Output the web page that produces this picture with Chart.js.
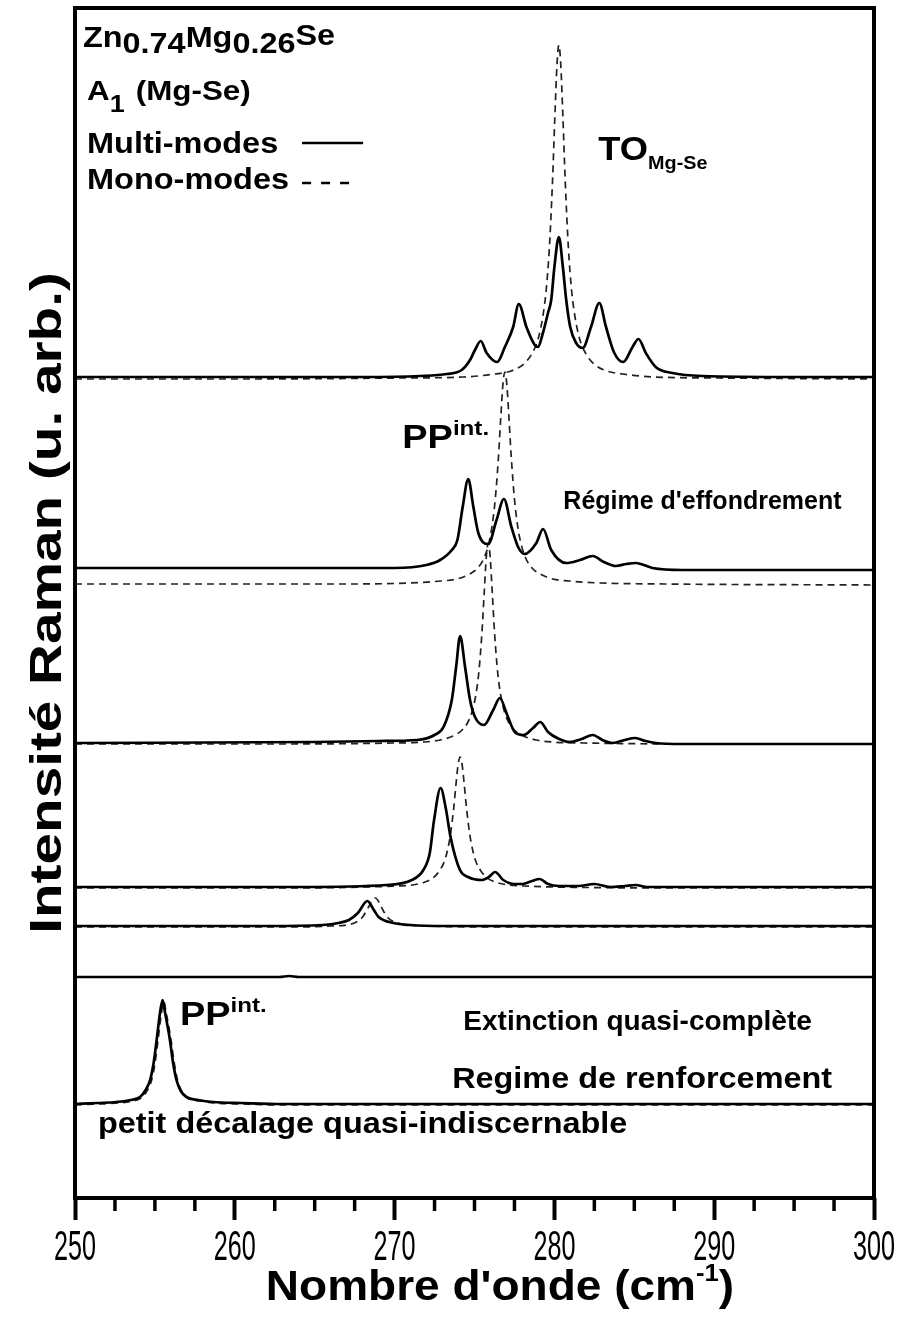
<!DOCTYPE html>
<html>
<head>
<meta charset="utf-8">
<script src="https://cdn.jsdelivr.net/npm/chart.js@4.4.1/dist/chart.umd.min.js"></script>
<style>
  html, body { margin: 0; padding: 0; background: #fff; }
</style>
</head>
<body>
<canvas id="ramanChart" width="910" height="1320"></canvas>
<script>
// Raman spectra Zn0.74Mg0.26Se, A1 (Mg-Se), stacked with offsets (u. arb.)
// x = wavenumber (cm-1), y = intensity incl. offset. Solid = multi-modes, dashed = mono-modes.

// spectrum 1 (top, TO Mg-Se)
const s1MultiX = [250, 262, 268, 271.6, 273.27, 274.2, 274.72, 275.03, 275.39, 275.76, 276.42, 276.9, 277.42, 277.77, 278.25, 278.77, 278.97, 279.28, 279.6, 279.8, 280.0, 280.28, 280.53, 280.74, 280.99, 281.36, 281.77, 282.29, 282.81, 283.23, 283.75, 284.31, 284.89, 285.26, 285.72, 286.34, 287.38, 289.25, 295, 300];
const s1MultiY = [821, 821, 821, 822, 824, 828, 838, 848, 857, 845, 836, 851, 871, 894, 871, 853, 851, 865, 885, 898, 931, 961, 931, 898, 871, 855, 850, 871, 895, 871, 845, 836, 851, 859, 845, 831, 825, 822, 821, 821];
const s1MonoX = [250, 260.28, 270.28, 274.28, 276.28, 277.28, 278.08, 278.58, 278.98, 279.28, 279.48, 279.68, 279.88, 280.03, 280.16, 280.28, 280.4, 280.53, 280.68, 280.88, 281.08, 281.28, 281.58, 281.98, 282.48, 283.28, 284.28, 286.28, 290.28, 300];
const s1MonoY = [819, 819, 820, 821, 824, 827, 834, 844, 859, 882, 907, 949, 1016, 1082, 1133, 1153, 1133, 1082, 1016, 949, 907, 882, 859, 844, 834, 827, 824, 821, 820, 819];

// spectrum 2 (regime d'effondrement)
const s2MultiX = [250, 265, 270, 272, 272.85, 273.58, 273.93, 274.26, 274.61, 274.93, 275.24, 275.86, 276.38, 276.84, 277.31, 277.73, 278.14, 278.87, 279.29, 279.8, 280.74, 281.6, 282.4, 283.1, 283.85, 284.5, 285.1, 286.13, 288, 300];
const s2MultiY = [630, 630, 630, 633, 638, 648, 658, 691, 719, 691, 665, 654, 678, 699, 671, 651, 644, 655, 669, 648, 635, 638, 642, 636, 632, 634, 635, 630, 628, 628];
const s2MonoX = [250, 266.9, 270.9, 272.9, 273.9, 274.7, 275.2, 275.6, 275.9, 276.1, 276.3, 276.5, 276.65, 276.78, 276.9, 277.02, 277.15, 277.3, 277.5, 277.7, 277.9, 278.2, 278.6, 279.1, 279.9, 280.9, 282.9, 286.9, 300];
const s2MonoY = [614, 614, 615, 617, 619, 624, 630, 640, 655, 672, 699, 741, 782, 814, 826, 814, 782, 741, 699, 672, 655, 640, 630, 624, 619, 617, 615, 614, 613];

// spectrum 3
const s3MultiX = [250, 265, 269, 271.4, 272.5, 273.06, 273.58, 273.85, 274.1, 274.41, 274.72, 275.03, 275.59, 276.17, 276.59, 277.0, 277.52, 278.08, 278.66, 279.12, 279.6, 280.3, 280.95, 281.7, 282.4, 283.0, 283.65, 284.4, 285.06, 285.7, 286.34, 288, 300];
const s3MultiY = [455, 456, 457, 458, 463, 471, 498, 531, 562, 531, 498, 481, 473, 488, 500, 485, 466, 463, 470, 476, 466, 459, 456, 459, 463, 458, 455, 458, 460, 457, 455, 454, 454];
const s3MonoX = [250, 262, 269.86, 271.86, 272.86, 273.66, 274.16, 274.56, 274.86, 275.06, 275.26, 275.46, 275.61, 275.74, 275.86, 275.98, 276.11, 276.26, 276.46, 276.66, 276.86, 277.16, 277.56, 278.06, 278.86, 279.86, 281.86, 290, 300];
const s3MonoY = [454, 454, 455, 456, 458, 462, 467, 475, 487, 501, 524, 564, 606, 641, 655, 641, 606, 564, 524, 501, 487, 475, 467, 462, 458, 456, 455, 454, 454];

// spectrum 4
const s4MultiX = [250, 264, 269.5, 271.08, 271.8, 272.2, 272.47, 272.88, 273.2, 273.5, 274.09, 274.6, 275.47, 275.9, 276.29, 276.8, 277.5, 278.0, 278.6, 279.07, 279.6, 280.3, 281.5, 282.5, 283.5, 284.4, 285.08, 285.8, 287, 300];
const s4MultiY = [311, 311, 313, 318, 328, 345, 378, 410, 390, 361, 328, 321, 318, 321, 326, 318, 314, 314, 317, 319, 314, 312, 312, 314, 311, 312, 313, 311, 311, 311];
const s4MonoX = [250, 264, 268.1, 270.1, 271.1, 271.9, 272.4, 272.8, 273.1, 273.3, 273.5, 273.7, 273.85, 273.98, 274.1, 274.22, 274.35, 274.5, 274.7, 274.9, 275.1, 275.4, 275.8, 276.3, 277.1, 278.1, 280.1, 288, 300];
const s4MonoY = [310, 310, 311, 312, 313, 316, 320, 327, 336, 347, 364, 390, 415, 434, 441, 434, 415, 390, 364, 347, 336, 327, 320, 316, 313, 312, 311, 310, 310];

// spectrum 5
const s5MultiX = [250, 262, 265.5, 266.5, 267.14, 267.7, 268.3, 268.7, 269.0, 269.93, 271, 273, 300];
const s5MultiY = [272, 272, 273, 275, 278, 285, 297, 288, 281, 275, 273, 272, 272];
const s5MonoX = [250, 264, 266, 267, 267.6, 268.0, 268.3, 268.55, 268.8, 269.05, 269.3, 269.6, 270.0, 270.8, 272, 276, 300];
const s5MonoY = [271, 271, 272, 273, 276, 281, 289, 296, 300, 295, 287, 280, 276, 273, 272, 271, 271];

// spectrum 6 (extinction quasi-complete)
const s6MultiX = [250, 262.8, 263.4, 264, 300];
const s6MultiY = [221, 221, 222, 221, 221];

// spectrum 7 (bottom, regime de renforcement)
const s7MultiX = [250, 251.4, 252.6, 253.5, 254.07, 254.42, 254.7, 254.92, 255.11, 255.32, 255.48, 255.64, 255.94, 256.12, 256.35, 256.62, 256.97, 257.72, 258.64, 260.4, 263, 300];
const s7MultiY = [94, 95, 96, 98, 101, 108, 118, 135, 158, 185, 198, 185, 158, 137, 118, 107, 101, 98, 96, 95, 94, 94];
const s7MonoX = [250, 251.5, 252.7, 253.6, 254.15, 254.5, 254.78, 255.0, 255.19, 255.4, 255.56, 255.72, 256.02, 256.2, 256.43, 256.7, 257.05, 257.8, 258.72, 260.5, 263, 300];
const s7MonoY = [93, 94, 95, 97, 100, 107, 117, 134, 157, 184, 196, 184, 157, 136, 117, 106, 100, 97, 95, 94, 93, 93];

const xMin = 250, xMax = 300, xStep = 10, xMinorStep = 2.5;
const yMin = 0, yMax = 1190;

const FONT = "'Liberation Sans', Arial, sans-serif";

const curves = [
  [s1MultiX, s1MultiY, false], [s1MonoX, s1MonoY, true],
  [s2MultiX, s2MultiY, false], [s2MonoX, s2MonoY, true],
  [s3MultiX, s3MultiY, false], [s3MonoX, s3MonoY, true],
  [s4MultiX, s4MultiY, false], [s4MonoX, s4MonoY, true],
  [s5MultiX, s5MultiY, false], [s5MonoX, s5MonoY, true],
  [s6MultiX, s6MultiY, false],
  [s7MultiX, s7MultiY, false], [s7MonoX, s7MonoY, true]
];

// text notes, placed in data coordinates
const notes = [
  { x: 250.5, y: 1151, size: 30, sx: 1.08, runs: [{t: 'Zn'}, {t: '0.74', dy: 6}, {t: 'Mg'}, {t: '0.26', dy: 6}, {t: 'Se', dy: -2}] },
  { x: 250.75, y: 1098, size: 28, sx: 1.12, runs: [{t: 'A'}, {t: '1', dy: 12, size: 24}, {t: '(Mg-Se)', dx: 10}] },
  { x: 250.75, y: 1045, size: 29, sx: 1.12, runs: [{t: 'Multi-modes'}] },
  { x: 250.75, y: 1009, size: 29, sx: 1.12, runs: [{t: 'Mono-modes'}] },
  { x: 282.75, y: 1038, size: 33, sx: 1.1, runs: [{t: 'TO'}, {t: 'Mg-Se', dy: 9, size: 18}] },
  { x: 270.48, y: 750, size: 33, sx: 1.15, runs: [{t: 'PP'}, {t: 'int.', dy: -13, size: 21}] },
  { x: 280.56, y: 689, size: 25, sx: 1.0, runs: [{t: "Régime d'effondrement"}] },
  { x: 274.3, y: 168, size: 28, sx: 1.0, runs: [{t: 'Extinction quasi-complète'}] },
  { x: 256.57, y: 173, size: 33, sx: 1.15, runs: [{t: 'PP'}, {t: 'int.', dy: -13, size: 21}] },
  { x: 273.6, y: 110, size: 30, sx: 1.08, runs: [{t: 'Regime de renforcement'}] },
  { x: 251.44, y: 65, size: 30, sx: 1.08, runs: [{t: 'petit décalage quasi-indiscernable'}] }
];

function toPoints(xs, ys){
    return xs.map((x, i) => ({x: x, y: ys[i]}));
}

function drawRuns(ctx, runs, x, y, size, sx){
    ctx.save();
    ctx.translate(x, y);
    ctx.scale(sx, 1);
    let cx = 0;
    runs.forEach(r => {
        ctx.font = `bold ${r.size || size}px ${FONT}`;
        cx += r.dx || 0;
        ctx.fillText(r.t, cx, r.dy || 0);
        cx += ctx.measureText(r.t).width;
    });
    ctx.restore();
    return cx * sx;
}

const decorations = {
    id: 'decorations',
    afterDraw(chart){
        const ctx = chart.ctx;
        const area = chart.chartArea;
        const xs = chart.scales.x, ys = chart.scales.y;
        ctx.save();
        ctx.fillStyle = '#000';
        ctx.strokeStyle = '#000';
        ctx.textBaseline = 'alphabetic';
        ctx.textAlign = 'left';

        // frame
        ctx.lineWidth = 4;
        ctx.setLineDash([]);
        ctx.strokeRect(area.left, area.top, area.right - area.left, area.bottom - area.top);

        // minor ticks
        ctx.lineWidth = 3.5;
        for (let v = xMin + xMinorStep; v < xMax; v += xMinorStep) {
            if (v % xStep === 0) continue;
            const px = xs.getPixelForValue(v);
            ctx.beginPath();
            ctx.moveTo(px, area.bottom);
            ctx.lineTo(px, area.bottom + 13);
            ctx.stroke();
        }

        // tick labels (narrow)
        ctx.font = `42px ${FONT}`;
        ctx.textAlign = 'center';
        ctx.textBaseline = 'middle';
        xs.ticks.forEach(t => {
            ctx.save();
            ctx.translate(xs.getPixelForValue(t.value), 1248);
            ctx.scale(0.6, 1);
            ctx.fillText(String(t.value), 0, 0);
            ctx.restore();
        });
        ctx.textAlign = 'left';
        ctx.textBaseline = 'alphabetic';

        // x title with superscript
        const xTitle = [{t: "Nombre d'onde (cm"}, {t: '-1', dy: -19, size: 24}, {t: ')'}];
        ctx.globalAlpha = 0;
        const w = drawRuns(ctx, xTitle, 0, 0, 43, 1.07);
        ctx.globalAlpha = 1;
        drawRuns(ctx, xTitle, 500 - w / 2, 1300, 43, 1.07);

        // y title
        ctx.save();
        ctx.translate(61, (area.top + area.bottom) / 2);
        ctx.rotate(-Math.PI / 2);
        ctx.scale(1.26, 1);
        ctx.font = `bold 45px ${FONT}`;
        ctx.textAlign = 'center';
        ctx.fillText('Intensité Raman (u. arb.)', 0, 0);
        ctx.restore();

        // notes
        notes.forEach(n => {
            drawRuns(ctx, n.runs, xs.getPixelForValue(n.x), ys.getPixelForValue(n.y), n.size, n.sx);
        });

        // legend samples
        ctx.lineWidth = 2.6;
        ctx.beginPath();
        ctx.moveTo(xs.getPixelForValue(264.21), ys.getPixelForValue(1055));
        ctx.lineTo(xs.getPixelForValue(268.03), ys.getPixelForValue(1055));
        ctx.stroke();
        ctx.setLineDash([9, 10]);
        ctx.beginPath();
        ctx.moveTo(xs.getPixelForValue(264.21), ys.getPixelForValue(1015));
        ctx.lineTo(xs.getPixelForValue(267.3), ys.getPixelForValue(1015));
        ctx.stroke();
        ctx.restore();
    }
};

const ctx = document.getElementById('ramanChart');

const ramanChart = new Chart(ctx, {
    type: 'line',
    data: {
        datasets: curves.map(([xArr, yArr, dashed], i) => ({
            label: (dashed ? 'Mono-modes ' : 'Multi-modes ') + i,
            data: toPoints(xArr, yArr),
            borderColor: dashed ? '#222' : '#000',
            borderWidth: dashed ? 1.7 : 2.7,
            borderDash: dashed ? [7, 5] : [],
            pointRadius: 0,
            fill: false,
            cubicInterpolationMode: 'monotone',
            order: dashed ? 2 : 1
        }))
    },
    options: {
        responsive: false,
        animation: false,
        devicePixelRatio: 1,
        events: [],
        layout: {
            padding: { left: 75, right: 36, top: 8, bottom: 0 }
        },
        scales: {
            x: {
                type: 'linear',
                min: xMin,
                max: xMax,
                ticks: { display: false, stepSize: xStep },
                grid: {
                    display: true,
                    drawOnChartArea: false,
                    drawTicks: true,
                    tickLength: 22,
                    tickWidth: 4,
                    tickColor: '#000'
                },
                border: { display: false },
                afterFit(scale){ scale.height = 122; }
            },
            y: {
                display: false,
                min: yMin,
                max: yMax
            }
        },
        plugins: {
            legend: { display: false },
            tooltip: { enabled: false }
        }
    },
    plugins: [decorations]
});
</script>
</body>
</html>
